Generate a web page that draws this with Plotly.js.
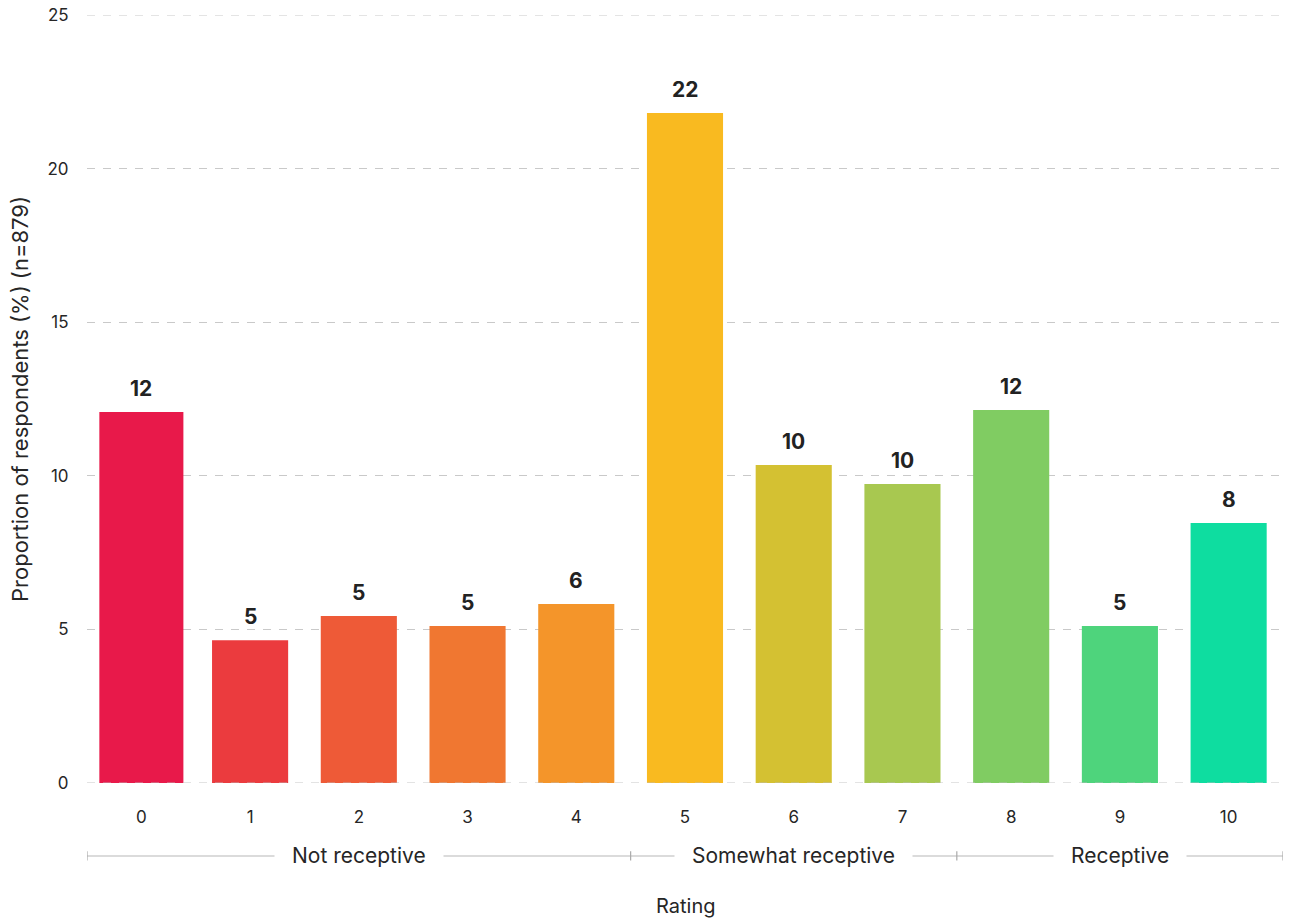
<!DOCTYPE html>
<html>
<head>
<meta charset="utf-8">
<script src="https://cdn.plot.ly/plotly-3.0.1.min.js"></script>
<style>
  html, body { margin: 0; padding: 0; background: #ffffff; }
  #chart { width: 1298px; height: 921px; }
</style>
</head>
<body>
<div id="chart"></div>
<script>
// Receptiveness ratings, 0–10 scale
const ratings = ['0', '1', '2', '3', '4', '5', '6', '7', '8', '9', '10'];
const shares = [12.08, 4.65, 5.44, 5.11, 5.83, 21.81, 10.35, 9.73, 12.14, 5.11, 8.46];
const barColors = ['#E8194A', '#EB3B3E', '#EE5A37', '#F07731', '#F4952A', '#F9BA20',
                   '#D4C132', '#A8C850', '#80CC62', '#4ED47C', '#0EDDA0'];

// Rating bands shown under the axis
const groupNames = ['Not receptive', 'Somewhat receptive', 'Receptive'];
const groupStart = [0, 5, 8];
const groupEnd = [4, 7, 10];

const FONT = 'Inter, "Liberation Sans", Arial, sans-serif';
const TEXT = '#262626';
const Y_MAX = 25;

const trace = {
  type: 'bar',
  x: ratings.map((_, i) => i),
  y: shares,
  width: shares.map((_, i) => i === 0 ? 0.773 : 0.70),
  marker: { color: barColors, line: { width: 0 } },
  hoverinfo: 'x+y'
};

const annotations = [];
// value labels above each bar
shares.forEach((v, i) => {
  annotations.push({
    x: i, y: v, xref: 'x', yref: 'y',
    text: '<b>' + Math.round(v) + '</b>',
    showarrow: false, yanchor: 'bottom', yshift: 9,
    font: { family: FONT, size: 21, color: '#222222' }
  });
});

const shapes = [];
const bracketY = -0.095;
// long bracket line across all bands
shapes.push({
  type: 'line', xref: 'x', yref: 'paper',
  x0: -0.5, x1: ratings.length - 0.5, y0: bracketY, y1: bracketY,
  line: { color: '#cfcfcf', width: 1.5 }
});
const bounds = [-0.5].concat(groupEnd.map(e => e + 0.5));
bounds.forEach(b => {
  shapes.push({
    type: 'line', xref: 'x', yref: 'paper',
    x0: b, x1: b, y0: bracketY - 0.006, y1: bracketY + 0.006,
    line: { color: '#aaaaaa', width: 1.2 }
  });
});
groupNames.forEach((name, g) => {
  annotations.push({
    x: (groupStart[g] + groupEnd[g]) / 2, y: bracketY,
    xref: 'x', yref: 'paper',
    text: name, showarrow: false,
    xanchor: 'center', yanchor: 'middle',
    bgcolor: '#ffffff', borderpad: 17,
    font: { family: FONT, size: 21, color: TEXT }
  });
});
// axis title for the rating scale
annotations.push({
  x: 0.5, y: -0.16, xref: 'paper', yref: 'paper',
  text: 'Rating', showarrow: false, xanchor: 'center', yanchor: 'middle',
  font: { family: FONT, size: 20, color: TEXT }
});
// dashed baseline drawn on top of the bars, plus the top gridline
shapes.push({
  type: 'line', xref: 'paper', yref: 'y',
  x0: 0, x1: 1, y0: 0, y1: 0, layer: 'above',
  line: { color: 'rgba(190,190,190,0.85)', width: 1.2, dash: '8px,8px' }
});
shapes.push({
  type: 'line', xref: 'paper', yref: 'y',
  x0: 0, x1: 1, y0: Y_MAX, y1: Y_MAX, layer: 'below',
  line: { color: '#c9c9c9', width: 1, dash: '8px,8px' }
});

const layout = {
  width: 1298, height: 921,
  margin: { l: 87, r: 15, t: 15, b: 138 },
  paper_bgcolor: '#ffffff', plot_bgcolor: '#ffffff',
  showlegend: false,
  font: { family: FONT, color: TEXT },
  bargap: 0.3,
  xaxis: {
    range: [-0.5, ratings.length - 0.5],
    tickmode: 'array', tickvals: ratings.map((_, i) => i), ticktext: ratings,
    showgrid: false, zeroline: false, showline: false,
    ticks: 'outside', ticklen: 19, tickcolor: 'rgba(0,0,0,0)',
    tickfont: { family: FONT, size: 17, color: TEXT },
    fixedrange: true
  },
  yaxis: {
    range: [0, Y_MAX], dtick: 5, tick0: 0,
    showgrid: true, gridcolor: '#c9c9c9', gridwidth: 1, griddash: '8px,8px',
    zeroline: false, showline: false,
    ticks: 'outside', ticklen: 14, tickcolor: 'rgba(0,0,0,0)',
    tickfont: { family: FONT, size: 17, color: TEXT },
    title: { text: 'Proportion of respondents (%) (n=879)', standoff: 12,
             font: { family: FONT, size: 22, color: TEXT } },
    fixedrange: true
  },
  annotations: annotations,
  shapes: shapes
};

Plotly.newPlot('chart', [trace], layout, { displayModeBar: false, staticPlot: true });
</script>
</body>
</html>
